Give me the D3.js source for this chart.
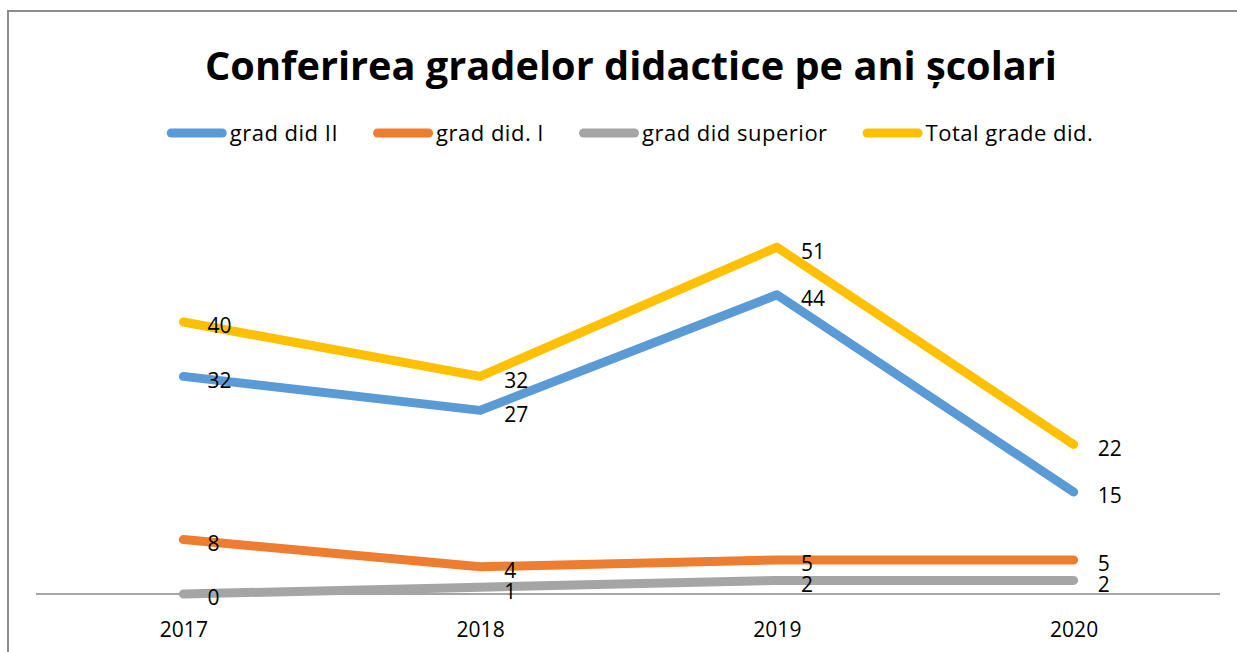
<!DOCTYPE html>
<html>
<head>
<meta charset="utf-8">
<script src="https://cdn.jsdelivr.net/npm/d3@7"></script>
<style>
  html, body { margin: 0; padding: 0; background: #fff; }
  svg { display: block; font-family: 'Open Sans', 'Noto Sans', sans-serif; }
</style>
</head>
<body>
<div id="chart"></div>
<script>
const years = ['2017', '2018', '2019', '2020']
const seriesNames = ['grad did II', 'grad did. I', 'grad did superior', 'Total grade did.']
const gradII = [32, 27, 44, 15]
const gradI = [8, 4, 5, 5]
const gradSuperior = [0, 1, 2, 2]
const totalGrade = [40, 32, 51, 22]
const colors = ['#5b9bd5', '#ed7d31', '#a5a5a5', '#ffc000']
const titleText = 'Conferirea gradelor didactice pe ani școlari'

const width = 1237, height = 652
const series = [gradII, gradI, gradSuperior, totalGrade].map((values, i) => ({
  name: seriesNames[i], color: colors[i], values
}))

const svg = d3.select('#chart').append('svg')
  .attr('width', width)
  .attr('height', height)

// Chart frame (top and left edges visible)
svg.append('path')
  .attr('d', `M8,${height} L8,11 L${width},11`)
  .attr('fill', 'none')
  .attr('stroke', '#8c8c8c')
  .attr('stroke-width', 2)

// Title
const title = svg.append('text')
  .attr('x', 631)
  .attr('y', 80)
  .attr('text-anchor', 'middle')
  .attr('font-size', 40)
  .attr('font-weight', 700)
  .attr('fill', '#000')
  .text(titleText)
if (title.node().getComputedTextLength() > 852) {
  title.attr('textLength', 852).attr('lengthAdjust', 'spacingAndGlyphs')
}

// Legend, laid out left to right and centered
const legend = svg.append('g')
const items = series.map(s => {
  const g = legend.append('g')
  g.append('line')
    .attr('x1', 4.5).attr('x2', 55.5)
    .attr('y1', 133).attr('y2', 133)
    .attr('stroke', s.color)
    .attr('stroke-width', 9)
    .attr('stroke-linecap', 'round')
  const t = g.append('text')
    .attr('x', 63)
    .attr('y', 133)
    .attr('dy', '0.35em')
    .attr('font-size', 22)
    .attr('letter-spacing', 0.5)
    .attr('fill', '#000')
    .text(s.name)
  return { g, w: 63 + t.node().getComputedTextLength() }
})
const gap = 35
const legendW = d3.sum(items, d => d.w) + gap * (items.length - 1)
let lx = 630 - legendW / 2
items.forEach(d => {
  d.g.attr('transform', `translate(${lx},0)`)
  lx += d.w + gap
})

// Scales
const x = d3.scalePoint()
  .domain(years)
  .range([35, 1222])
  .padding(0.5)

const y = d3.scaleLinear()
  .domain([0, 60])
  .range([594, 186])

// X axis
const xAxis = svg.append('g')
  .attr('transform', `translate(0,${y(0)})`)
  .call(d3.axisBottom(x).tickSize(0).tickPadding(28))
xAxis.select('.domain')
  .attr('d', 'M36,0H1220')
  .attr('stroke', '#878787')
  .attr('stroke-width', 1.5)
xAxis.selectAll('.tick text')
  .attr('font-family', "'Open Sans', sans-serif")
  .attr('font-size', 21)
  .attr('fill', '#000')

// Lines
const line = d3.line()
  .x((d, i) => x(years[i]))
  .y(d => y(d))

series.forEach(s => {
  svg.append('path')
    .datum(s.values)
    .attr('d', line)
    .attr('fill', 'none')
    .attr('stroke', s.color)
    .attr('stroke-width', 9)
    .attr('stroke-linecap', 'round')
    .attr('stroke-linejoin', 'round')
})

// Data labels, to the right of each point
series.forEach(s => {
  svg.append('g')
    .selectAll('text')
    .data(s.values)
    .join('text')
    .attr('x', (d, i) => x(years[i]) + 24)
    .attr('y', d => y(d) + 4)
    .attr('dy', '0.35em')
    .attr('font-size', 21)
    .attr('fill', '#000')
    .text(d => d)
})
</script>
</body>
</html>
